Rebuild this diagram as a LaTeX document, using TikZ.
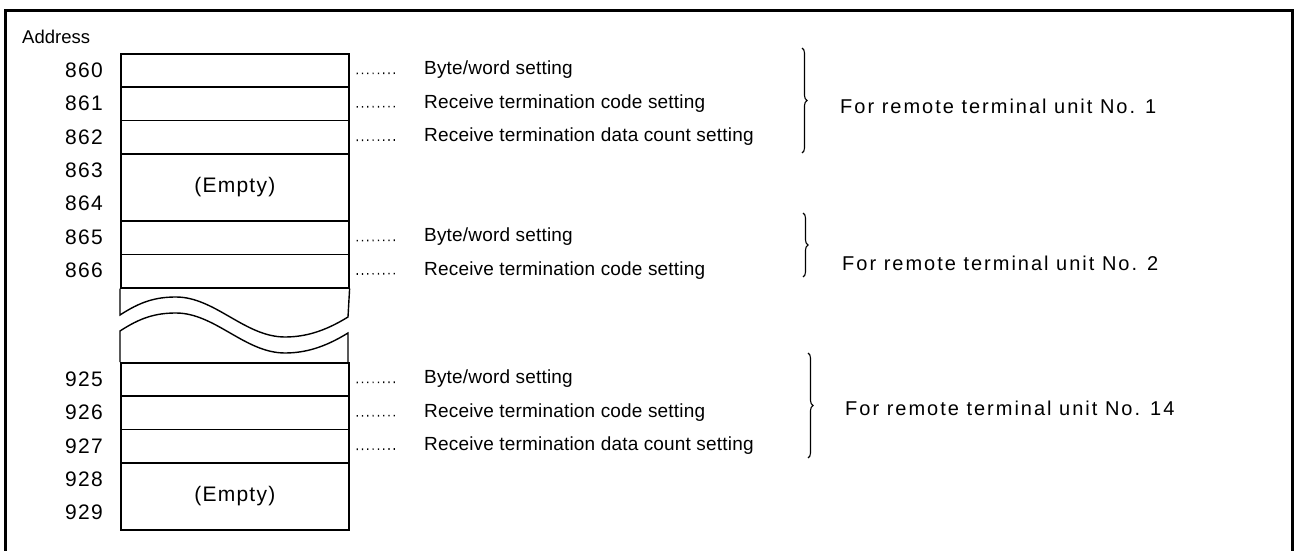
\documentclass[tikz,border=0pt]{standalone}
\usepackage{fontspec}
\setmainfont{Liberation Sans}
\newfontfamily\descfont[LetterSpace=1]{Liberation Sans}
\newfontfamily\numfont[LetterSpace=6]{Liberation Sans}
\newfontfamily\widefont[LetterSpace=10]{Liberation Sans}
\usetikzlibrary{decorations.pathreplacing}
\begin{document}
\begin{tikzpicture}[x=1pt,y=-1pt,
  cell/.style={draw,line width=1.6pt,rectangle,minimum width=228pt,minimum height=33.4pt,inner sep=0pt,anchor=north west,font=\fontsize{21}{23}\numfont},
  bigcell/.style={cell,minimum height=67pt},
  addr/.style={anchor=east,inner sep=0pt,font=\fontsize{21}{23}\numfont},
  desc/.style={anchor=west,inner sep=0pt,font=\fontsize{19}{21}\descfont},
  unitlbl/.style={anchor=west,inner sep=0pt,font=\fontsize{20}{22}\widefont},
  dotline/.style={line width=1.6pt,dash pattern=on 1.2pt off 4.1pt},
  rbrace/.style={decorate,decoration={brace,amplitude=5pt,aspect=0.5},line width=1.1pt},
  frame/.style={line width=3pt},
  wave/.style={line width=1.4pt}]
\useasboundingbox (0,0) rectangle (1295,551);
% frame (open at the bottom)
\draw[frame] (5,560) -- (5,11) -- (1292,11) -- (1292,560);
\node[anchor=west,inner sep=0pt,font=\fontsize{18.5}{20}\selectfont] (address) at (22,37) {Address};
% upper block
\node[cell] (c860) at (120,53) {};
\node[cell] (c861) at (120,86.4) {};
\node[cell] (c862) at (120,119.8) {};
\node[bigcell] (c863) at (120,153.2) {(Empty)};
\node[cell] (c865) at (120,220.2) {};
\node[cell] (c866) at (120,253.6) {};
% address numbers
\node[addr] (a860) at (103,70) {860};
\node[addr] (a861) at (103,103.4) {861};
\node[addr] (a862) at (103,136.8) {862};
\node[addr] (a863) at (103,170) {863};
\node[addr] (a864) at (103,203.5) {864};
\node[addr] (a865) at (103,237) {865};
\node[addr] (a866) at (103,270.3) {866};
% break symbol
\draw[wave] (c866.south west) -- (120,315)
  .. controls (140,302) and (155,297) .. (176,297)
  .. controls (215,297) and (245,337) .. (285,337)
  .. controls (310,337) and (330,328) .. (348,317) -- (c866.south east);
\draw[wave] (120,362) -- (120,331)
  .. controls (140,318) and (155,313) .. (176,313)
  .. controls (215,313) and (245,353) .. (285,353)
  .. controls (310,353) and (330,344) .. (348,333) -- (348,362);
% lower block
\node[cell] (c925) at (120,362) {};
\node[cell] (c926) at (120,395.4) {};
\node[cell] (c927) at (120,428.8) {};
\node[bigcell] (c928) at (120,462.2) {(Empty)};
\node[addr] (a925) at (103,379) {925};
\node[addr] (a926) at (103,412.4) {926};
\node[addr] (a927) at (103,445.8) {927};
\node[addr] (a928) at (103,479) {928};
\node[addr] (a929) at (103,512) {929};
% descriptions
\node[desc] (d860) at (424,70) {Byte/word setting};
\node[desc] (d861) at (424,103.4) {Receive termination code setting};
\node[desc] (d862) at (424,136.8) {Receive termination data count setting};
\node[desc] (d865) at (424,237) {Byte/word setting};
\node[desc] (d866) at (424,270.3) {Receive termination code setting};
\node[desc] (d925) at (424,379) {Byte/word setting};
\node[desc] (d926) at (424,412.4) {Receive termination code setting};
\node[desc] (d927) at (424,445.8) {Receive termination data count setting};
% dotted leaders
\foreach \n in {860,861,862,865,866,925,926,927}{
  \draw[dotline,shorten <=7pt,shorten >=26pt] ([yshift=-3pt]c\n.east) -- ([yshift=-3pt]d\n.west);
}
% braces
\draw[rbrace] (802,48) -- (802,153);
\draw[rbrace] (803,213) -- (803,277);
\draw[rbrace] (808,353) -- (808,458);
\node[unitlbl] (u1) at (840,106) {For remote terminal unit No. 1};
\node[unitlbl] (u2) at (842,263) {For remote terminal unit No. 2};
\node[unitlbl] (u14) at (845,408) {For remote terminal unit No. 14};
\end{tikzpicture}
\end{document}
